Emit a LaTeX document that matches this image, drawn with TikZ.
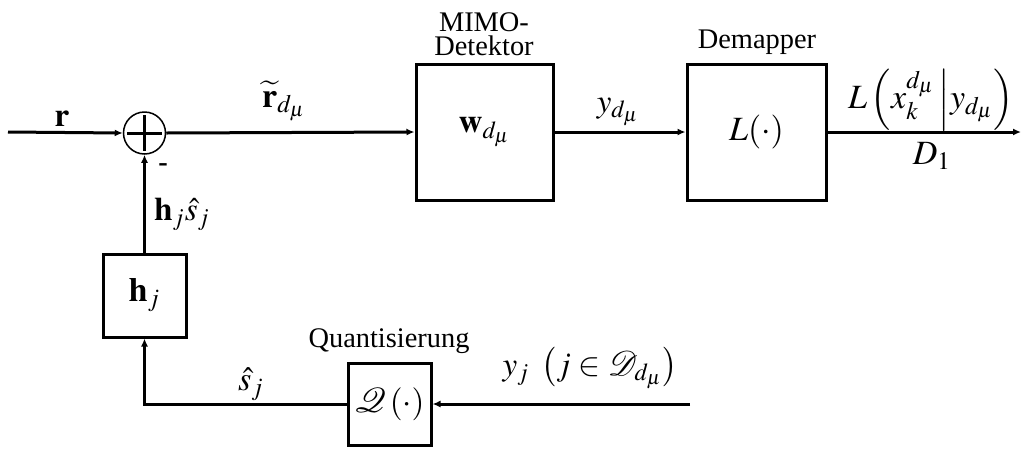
\documentclass[12pt,tikz,border=0pt]{standalone}
\usepackage{amsmath,amssymb}
\usepackage{mathptmx}
\usepackage{mathrsfs}
\usepackage[no-math]{fontspec}
\setmainfont{Liberation Serif}
\usepackage{tikz}
\usetikzlibrary{arrows.meta}

\tikzset{
	block/.style = {draw, line width=1.5pt, inner sep=0pt},
	bigblock/.style = {block, minimum width=68.5pt, minimum height=68pt},
	smallblock/.style = {block, minimum width=41.5pt, minimum height=41.5pt},
	sig/.style = {line width=1.5pt, -{Latex[length=4pt,width=3.5pt]}},
	mathlabel/.style = {font=\fontsize{16.5}{19}\selectfont},
	biglabel/.style = {font=\fontsize{17}{20}\selectfont},
}

\begin{document}
\begin{tikzpicture}[x=0.5pt, y=-0.5pt, font=\fontsize{14.2}{17}\selectfont]
	\useasboundingbox (0,0) rectangle (1023,451);
	% blocks
	\node [draw, circle, line width=0.75pt, minimum size=21pt, inner sep=0pt] (sum) at (144.5,133) {};
	\draw [line width=1.5pt] ([xshift=2pt]sum.west) -- ([xshift=-2pt]sum.east);
	\draw [line width=1.5pt] ([yshift=-2pt]sum.north) -- ([yshift=2pt]sum.south);
	\node [bigblock, mathlabel] (mimo) at (484.5,132) {$\mathbf{w}_{d_\mu}$};
	\node [bigblock, minimum width=69.5pt, biglabel] (demap) at (756.5,132) {$L(\cdot)$};
	\node [smallblock, biglabel] (hj) at (144.5,295.5) {$\mathbf{h}_j$};
	\node [smallblock, minimum height=41pt, mathlabel] (quant) at (389.5,404) {$\mathscr{Q}\left(\cdot\right)$};
	% ends
	\coordinate (in) at (8,132);
	\coordinate (out) at (1021,132);
	\coordinate (yin) at (690,404);
	% signals
	\draw [sig] (in) -- (sum.west);
	\draw [sig] (sum.east) -- (mimo.west);
	\draw [sig] (mimo.east) -- (demap.west);
	\draw [sig] (demap.east) -- (out);
	\draw [sig] (hj.north) -- (sum.south);
	\draw [sig] (quant.west) -- (hj.south |- quant.west) -- (hj.south);
	\draw [sig] (yin) -- (quant.east);
	% labels
	\node [mathlabel] (lr) at (62,119) {$\mathbf{r}$};
	\node (lminus) at (163,168) {\textbf{-}};
	\node [mathlabel] (lhs) at (182,214) {$\mathbf{h}_j\hat{s}_j$};
	\node [biglabel] (lrt) at (284,101) {$\widetilde{\mathbf{r}}_{d_\mu}$};
	\node [mathlabel] (ly) at (618,112) {$y_{d_\mu}$};
	\node [biglabel] (lL) at (931,100) {$L\left(x_k^{d_\mu}\,\middle|y_{d_\mu}\right)$};
	\node [biglabel] (lD) at (932,156) {$D_1$};
	\node [biglabel] (lshat) at (251,384) {$\hat{s}_j$};
	\node [mathlabel] (lyj) at (590,368) {$y_j\ \left(j\in\mathscr{D}_{d_\mu}\right)$};
	\node [align=center, inner sep=0pt, font=\fontsize{14.2}{12}\selectfont] (tmimo) at (484,34) {MIMO-\\Detektor};
	\node (tdemap) at (757,42) {Demapper};
	\node (tquant) at (389,341) {Quantisierung};
\end{tikzpicture}
\end{document}
